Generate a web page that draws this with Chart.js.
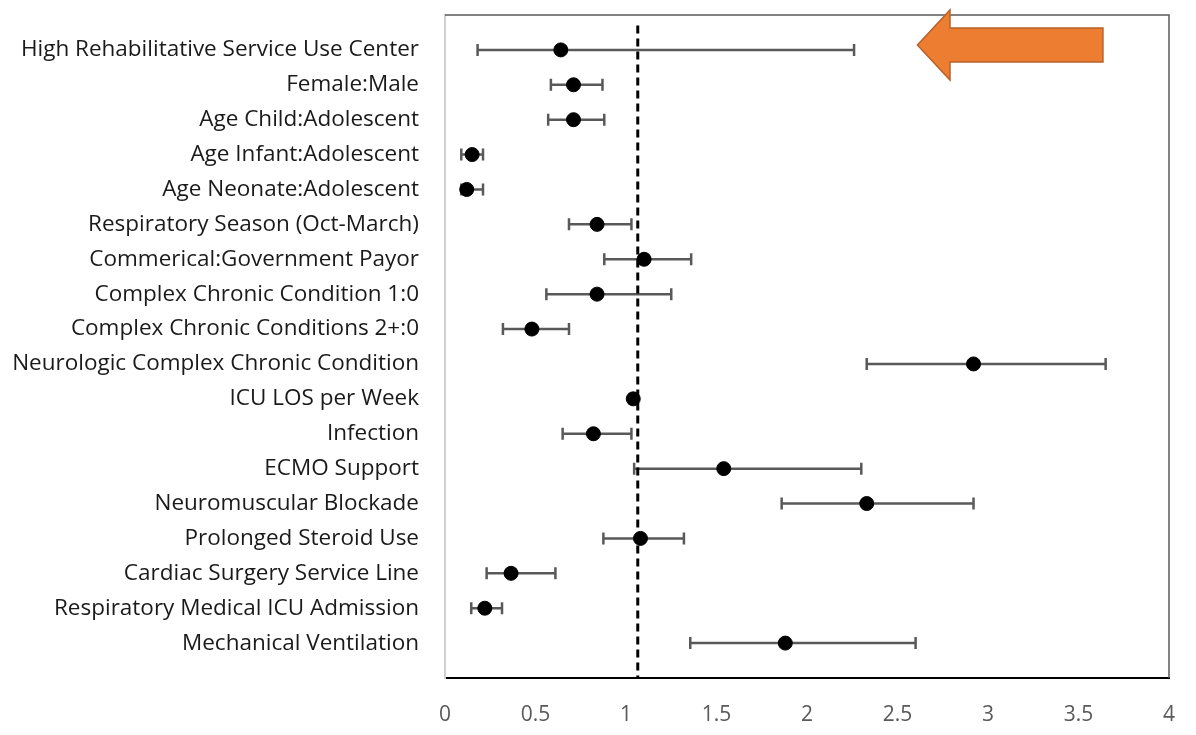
<!DOCTYPE html>
<html>
<head>
<meta charset="utf-8">
<script src="https://cdn.jsdelivr.net/npm/chart.js@4.4.1/dist/chart.umd.min.js"></script>
<style>
  html, body { margin: 0; padding: 0; background: #fff; }
  #wrap { width: 1196px; height: 735px; }
</style>
</head>
<body>
<div id="wrap"><canvas id="myChart" width="1196" height="735"></canvas></div>
<script>
const rowLabels = [
  "High Rehabilitative Service Use Center",
  "Female:Male",
  "Age Child:Adolescent",
  "Age Infant:Adolescent",
  "Age Neonate:Adolescent",
  "Respiratory Season (Oct-March)",
  "Commerical:Government Payor",
  "Complex Chronic Condition 1:0",
  "Complex Chronic Conditions 2+:0",
  "Neurologic Complex Chronic Condition",
  "ICU LOS per Week",
  "Infection",
  "ECMO Support",
  "Neuromuscular Blockade",
  "Prolonged Steroid Use",
  "Cardiac Surgery Service Line",
  "Respiratory Medical ICU Admission",
  "Mechanical Ventilation",
];
const oddsRatio = [0.64, 0.71, 0.71, 0.15, 0.12, 0.84, 1.10, 0.84, 0.48, 2.92, 1.04, 0.82, 1.54, 2.33, 1.08, 0.365, 0.22, 1.88];
const ciLower = [0.18, 0.585, 0.57, 0.09, 0.09, 0.685, 0.88, 0.56, 0.32, 2.33, 1.02, 0.65, 1.045, 1.86, 0.875, 0.23, 0.145, 1.355];
const ciUpper = [2.26, 0.87, 0.88, 0.21, 0.21, 1.03, 1.36, 1.25, 0.685, 3.65, 1.06, 1.03, 2.30, 2.92, 1.32, 0.61, 0.315, 2.60];
const refLine = 1.065;
const xMin = 0, xMax = 4, xStep = 0.5;

const points = oddsRatio.map((v, i) => ({ x: v, y: i + 1 }));

// whiskers drawn behind the markers
const errorBars = {
  id: "errorBars",
  beforeDatasetsDraw(chart) {
    const { ctx, scales: { x, y } } = chart;
    ctx.save();
    ctx.strokeStyle = "#595959";
    ctx.lineWidth = 2.5;
    for (let i = 0; i < oddsRatio.length; i++) {
      const py = y.getPixelForValue(i + 1);
      const x0 = x.getPixelForValue(ciLower[i]);
      const x1 = x.getPixelForValue(ciUpper[i]);
      ctx.beginPath();
      ctx.moveTo(x0, py); ctx.lineTo(x1, py);
      ctx.moveTo(x0, py - 6); ctx.lineTo(x0, py + 6);
      ctx.moveTo(x1, py - 6); ctx.lineTo(x1, py + 6);
      ctx.stroke();
    }
    ctx.restore();
  },
};

// plot frame + orange callout arrow
const frameAndArrow = {
  id: "frameAndArrow",
  afterDraw(chart) {
    const { ctx, chartArea: a, scales: { x, y } } = chart;
    ctx.save();
    ctx.strokeStyle = "#595959";
    ctx.lineWidth = 1.5;
    ctx.beginPath();
    ctx.moveTo(a.left, a.top); ctx.lineTo(a.right, a.top); ctx.lineTo(a.right, a.bottom);
    ctx.stroke();

    const tipX = x.getPixelForValue(2.61), midY = y.getPixelForValue(0.86);
    const neckX = x.getPixelForValue(2.79), endX = x.getPixelForValue(3.635);
    ctx.beginPath();
    ctx.moveTo(tipX, midY);
    ctx.lineTo(neckX, midY - 35);
    ctx.lineTo(neckX, midY - 17);
    ctx.lineTo(endX, midY - 17);
    ctx.lineTo(endX, midY + 17);
    ctx.lineTo(neckX, midY + 17);
    ctx.lineTo(neckX, midY + 35);
    ctx.closePath();
    ctx.fillStyle = "#ED7D31";
    ctx.fill();
    ctx.strokeStyle = "#B9612A";
    ctx.lineWidth = 1.5;
    ctx.stroke();
    ctx.restore();
  },
};

new Chart(document.querySelector("#myChart").getContext("2d"), {
  type: "scatter",
  data: {
    datasets: [
      {
        type: "line",
        data: [{ x: refLine, y: 0.3 }, { x: refLine, y: 19 }],
        borderColor: "#000",
        borderWidth: 3,
        borderDash: [8, 5],
        pointRadius: 0,
        fill: false,
      },
      {
        data: points,
        backgroundColor: "#000",
        borderColor: "#000",
        pointRadius: 7,
        pointHoverRadius: 7,
      },
    ],
  },
  options: {
    responsive: false,
    animation: false,
    layout: { padding: { top: 15, right: 27, left: 0, bottom: 0 } },
    plugins: { legend: { display: false }, tooltip: { enabled: false } },
    scales: {
      x: {
        type: "linear",
        min: xMin,
        max: xMax,
        grid: { display: false, drawTicks: false },
        border: { display: true, color: "#000", width: 2 },
        ticks: {
          stepSize: xStep,
          padding: 24,
          color: "#595959",
          font: { family: "Open Sans", size: 21 },
          callback: (v) => String(Math.round(v * 10) / 10),
        },
        afterFit(scale) {
          scale.height = 57;
          scale.paddingLeft = 0;
          scale.paddingRight = 0;
        },
      },
      y: {
        type: "linear",
        reverse: true,
        min: 0,
        max: 19,
        grid: { display: false, drawTicks: false },
        border: { display: true, color: "#d0d0d0", width: 2 },
        ticks: {
          stepSize: 1,
          autoSkip: false,
          maxTicksLimit: 30,
          padding: 26,
          color: "#1a1a1a",
          font: { family: "Open Sans", size: 22.5 },
          callback: (v) => rowLabels[v - 1] || "",
        },
        afterFit(scale) {
          scale.width = 445;
          scale.paddingTop = 0;
          scale.paddingBottom = 0;
        },
      },
    },
  },
  plugins: [errorBars, frameAndArrow],
});
</script>
</body>
</html>
